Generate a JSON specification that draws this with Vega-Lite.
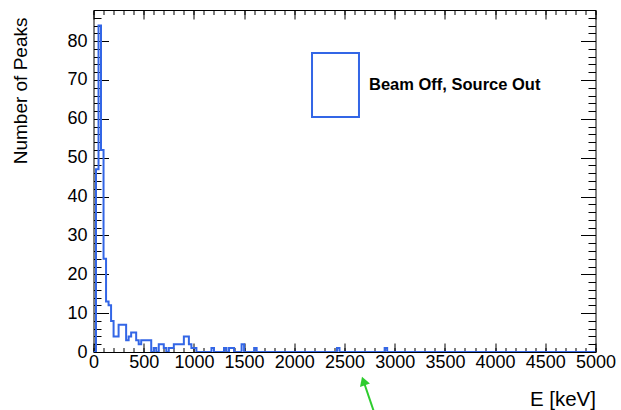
{
  "$schema": "https://vega.github.io/schema/vega-lite/v6.json",
  "width": 502,
  "height": 342,
  "autosize": "none",
  "padding": {"left": 93.5, "top": 10, "right": 25.5, "bottom": 58},
  "background": "white",
  "config": {
    "view": {"stroke": "black", "strokeWidth": 1},
    "axis": {
      "domain": false, "grid": false,
      "labelFont": "Liberation Sans", "labelFontSize": 18, "labelColor": "black",
      "tickColor": "black", "tickWidth": 1,
      "titleFont": "Liberation Sans", "titleFontSize": 18, "titleFontWeight": "normal", "titleColor": "black",
      "labelOverlap": false, "labelFlush": false, "labelBound": false
    }
  },
  "datasets": {
    "hist": [
      {"e":0,"n":0},{"e":25,"n":47},{"e":50,"n":84},{"e":75,"n":52},{"e":100,"n":24},{"e":125,"n":13},{"e":150,"n":12},{"e":175,"n":8},{"e":200,"n":4},{"e":225,"n":4},
      {"e":250,"n":7},{"e":275,"n":7},{"e":300,"n":7},{"e":325,"n":3},{"e":350,"n":4},{"e":375,"n":5},{"e":400,"n":5},{"e":425,"n":3},{"e":450,"n":2},{"e":475,"n":3},
      {"e":500,"n":3},{"e":525,"n":3},{"e":550,"n":3},{"e":575,"n":0},{"e":600,"n":1},{"e":625,"n":0},{"e":650,"n":2},{"e":675,"n":2},{"e":700,"n":1},{"e":725,"n":0},
      {"e":750,"n":1},{"e":775,"n":1},{"e":800,"n":2},{"e":825,"n":2},{"e":850,"n":2},{"e":875,"n":2},{"e":900,"n":4},{"e":925,"n":4},{"e":950,"n":2},{"e":975,"n":1},
      {"e":1000,"n":1},{"e":1025,"n":0},{"e":1050,"n":0},{"e":1075,"n":0},{"e":1100,"n":0},{"e":1125,"n":0},{"e":1150,"n":0},{"e":1175,"n":1},{"e":1200,"n":0},{"e":1225,"n":0},
      {"e":1250,"n":0},{"e":1275,"n":0},{"e":1300,"n":1},{"e":1325,"n":0},{"e":1350,"n":1},{"e":1375,"n":1},{"e":1400,"n":0},{"e":1425,"n":0},{"e":1450,"n":0},{"e":1475,"n":2},
      {"e":1500,"n":0},{"e":1525,"n":0},{"e":1550,"n":0},{"e":1575,"n":0},{"e":1600,"n":1},{"e":1625,"n":0},{"e":1650,"n":0},{"e":1675,"n":0},{"e":1700,"n":0},{"e":1725,"n":0},
      {"e":1750,"n":0},{"e":1775,"n":0},{"e":1800,"n":0},{"e":1825,"n":0},{"e":1850,"n":0},{"e":1875,"n":0},{"e":1900,"n":0},{"e":1925,"n":0},{"e":1950,"n":0},{"e":1975,"n":0},
      {"e":2000,"n":0},{"e":2025,"n":0},{"e":2050,"n":0},{"e":2075,"n":0},{"e":2100,"n":0},{"e":2125,"n":0},{"e":2150,"n":0},{"e":2175,"n":0},{"e":2200,"n":0},{"e":2225,"n":0},
      {"e":2250,"n":0},{"e":2275,"n":0},{"e":2300,"n":0},{"e":2325,"n":0},{"e":2350,"n":0},{"e":2375,"n":0},{"e":2400,"n":0},{"e":2425,"n":1},{"e":2450,"n":0},{"e":2475,"n":0},
      {"e":2500,"n":0},{"e":2525,"n":0},{"e":2550,"n":0},{"e":2575,"n":0},{"e":2600,"n":0},{"e":2625,"n":0},{"e":2650,"n":0},{"e":2675,"n":0},{"e":2700,"n":0},{"e":2725,"n":0},
      {"e":2750,"n":0},{"e":2775,"n":0},{"e":2800,"n":0},{"e":2825,"n":0},{"e":2850,"n":0},{"e":2875,"n":0},{"e":2900,"n":1},{"e":2925,"n":0},{"e":2950,"n":0},{"e":2975,"n":0},
      {"e":3000,"n":0},{"e":3025,"n":0},{"e":3050,"n":0},{"e":3075,"n":0},{"e":3100,"n":0},{"e":3125,"n":0},{"e":3150,"n":0},{"e":3175,"n":0},{"e":3200,"n":0},{"e":3225,"n":0},
      {"e":3250,"n":0},{"e":3275,"n":0},{"e":3300,"n":0},{"e":3325,"n":0},{"e":3350,"n":0},{"e":3375,"n":0},{"e":3400,"n":0},{"e":3425,"n":0},{"e":3450,"n":0},{"e":3475,"n":0},
      {"e":3500,"n":0},{"e":3525,"n":0},{"e":3550,"n":0},{"e":3575,"n":0},{"e":3600,"n":0},{"e":3625,"n":0},{"e":3650,"n":0},{"e":3675,"n":0},{"e":3700,"n":0},{"e":3725,"n":0},
      {"e":3750,"n":0},{"e":3775,"n":0},{"e":3800,"n":0},{"e":3825,"n":0},{"e":3850,"n":0},{"e":3875,"n":0},{"e":3900,"n":0},{"e":3925,"n":0},{"e":3950,"n":0},{"e":3975,"n":0},
      {"e":4000,"n":0},{"e":4025,"n":0},{"e":4050,"n":0},{"e":4075,"n":0},{"e":4100,"n":0},{"e":4125,"n":0},{"e":4150,"n":0},{"e":4175,"n":0},{"e":4200,"n":0},{"e":4225,"n":0},
      {"e":4250,"n":0},{"e":4275,"n":0},{"e":4300,"n":0},{"e":4325,"n":0},{"e":4350,"n":0},{"e":4375,"n":0},{"e":4400,"n":0},{"e":4425,"n":0},{"e":4450,"n":0},{"e":4475,"n":0},
      {"e":4500,"n":0},{"e":4525,"n":0},{"e":4550,"n":0},{"e":4575,"n":0},{"e":4600,"n":0},{"e":4625,"n":0},{"e":4650,"n":0},{"e":4675,"n":0},{"e":4700,"n":0},{"e":4725,"n":0},
      {"e":4750,"n":0},{"e":4775,"n":0},{"e":4800,"n":0},{"e":4825,"n":0},{"e":4850,"n":0},{"e":4875,"n":0},{"e":4900,"n":0},{"e":4925,"n":0},{"e":4950,"n":0},{"e":4975,"n":0},
      {"e":5000,"n":0}
    ],
    "arrow": [{"x1": 2794, "y1": -15.44, "x2": 2689, "y2": -7.46, "hx": 2689, "hy": -7.46}]
  },
  "layer": [
    {
      "data": {"name": "hist"},
      "mark": {"type": "line", "interpolate": "step-after", "strokeWidth": 2, "clip": true},
      "encoding": {
        "x": {"field": "e", "type": "quantitative", "scale": {"domain": [0, 5000], "nice": false, "zero": false},
              "axis": {"orient": "bottom", "values": [0,500,1000,1500,2000,2500,3000,3500,4000,4500,5000], "format": "d", "tickSize": -9, "labelPadding": 10, "title": "E [keV]", "titleFontSize": 20.5,
                       "titleAnchor": "end", "titleAlign": "right", "titleBaseline": "alphabetic", "titleX": 502, "titleY": 53}},
        "y": {"field": "n", "type": "quantitative", "scale": {"domain": [0, 88], "nice": false},
              "axis": {"orient": "left", "values": [0,10,20,30,40,50,60,70,80], "format": "d", "tickSize": -15, "labelPadding": 21.5, "title": "Number of Peaks", "titleFontSize": 19,
                       "titleAnchor": "end", "titleAlign": "right", "titleBaseline": "alphabetic", "titleAngle": -90, "titleX": -67.5, "titleY": 7}},
        "color": {"datum": "Beam Off, Source Out", "type": "nominal", "scale": {"range": ["#3366e6"]},
                  "legend": {"orient": "none", "legendX": 209, "legendY": 42, "title": null, "padding": 0,
                             "symbolType": "M-0.734,-1H0.734V1H-0.734Z", "symbolSize": 4096, "symbolStrokeWidth": 2,
                             "symbolFillColor": "transparent", "symbolStrokeColor": "#3366e6", "labelLimit": 0,
                             "labelFont": "Liberation Sans", "labelFontWeight": "bold", "labelFontSize": 16.5, "labelColor": "black", "labelOffset": 0.5}}
      }
    },
    {
      "data": {"name": "hist"},
      "mark": {"type": "line", "opacity": 0},
      "encoding": {
        "x": {"field": "e", "type": "quantitative", "scale": {"domain": [0, 5000], "nice": false, "zero": false},
              "axis": {"orient": "bottom", "values": [0,100,200,300,400,500,600,700,800,900,1000,1100,1200,1300,1400,1500,1600,1700,1800,1900,2000,2100,2200,2300,2400,2500,2600,2700,2800,2900,3000,3100,3200,3300,3400,3500,3600,3700,3800,3900,4000,4100,4200,4300,4400,4500,4600,4700,4800,4900,5000], "tickSize": -4.5, "labels": false, "title": null}},
        "y": {"field": "n", "type": "quantitative", "scale": {"domain": [0, 88], "nice": false},
              "axis": {"orient": "left", "values": [0,2,4,6,8,10,12,14,16,18,20,22,24,26,28,30,32,34,36,38,40,42,44,46,48,50,52,54,56,58,60,62,64,66,68,70,72,74,76,78,80,82,84,86,88], "tickSize": -7.5, "labels": false, "title": null}}
      }
    },
    {
      "data": {"name": "hist"},
      "mark": {"type": "line", "opacity": 0},
      "encoding": {
        "x": {"field": "e", "type": "quantitative", "scale": {"domain": [0, 5000], "nice": false, "zero": false},
              "axis": {"orient": "top", "values": [0,500,1000,1500,2000,2500,3000,3500,4000,4500,5000], "tickSize": -9, "labels": false, "title": null}},
        "y": {"field": "n", "type": "quantitative", "scale": {"domain": [0, 88], "nice": false},
              "axis": {"orient": "right", "values": [0,10,20,30,40,50,60,70,80], "tickSize": -15, "labels": false, "title": null}}
      }
    },
    {
      "data": {"name": "hist"},
      "mark": {"type": "line", "opacity": 0},
      "encoding": {
        "x": {"field": "e", "type": "quantitative", "scale": {"domain": [0, 5000], "nice": false, "zero": false},
              "axis": {"orient": "top", "values": [0,100,200,300,400,500,600,700,800,900,1000,1100,1200,1300,1400,1500,1600,1700,1800,1900,2000,2100,2200,2300,2400,2500,2600,2700,2800,2900,3000,3100,3200,3300,3400,3500,3600,3700,3800,3900,4000,4100,4200,4300,4400,4500,4600,4700,4800,4900,5000], "tickSize": -4.5, "labels": false, "title": null}},
        "y": {"field": "n", "type": "quantitative", "scale": {"domain": [0, 88], "nice": false},
              "axis": {"orient": "right", "values": [0,2,4,6,8,10,12,14,16,18,20,22,24,26,28,30,32,34,36,38,40,42,44,46,48,50,52,54,56,58,60,62,64,66,68,70,72,74,76,78,80,82,84,86,88], "tickSize": -7.5, "labels": false, "title": null}}
      }
    },
    {
      "data": {"name": "arrow"},
      "mark": {"type": "rule", "clip": false, "strokeWidth": 2, "color": "#2ecc2e"},
      "encoding": {
        "x": {"field": "x1", "type": "quantitative", "axis": null},
        "y": {"field": "y1", "type": "quantitative", "axis": null},
        "x2": {"field": "x2"},
        "y2": {"field": "y2"}
      }
    },
    {
      "data": {"name": "arrow"},
      "mark": {"type": "point", "shape": "triangle-up", "filled": true, "clip": false, "size": 110, "angle": 341, "color": "#2ecc2e", "opacity": 1},
      "encoding": {
        "x": {"field": "hx", "type": "quantitative", "axis": null},
        "y": {"field": "hy", "type": "quantitative", "axis": null}
      }
    }
  ],
  "resolve": {"axis": {"x": "independent", "y": "independent"}}
}
